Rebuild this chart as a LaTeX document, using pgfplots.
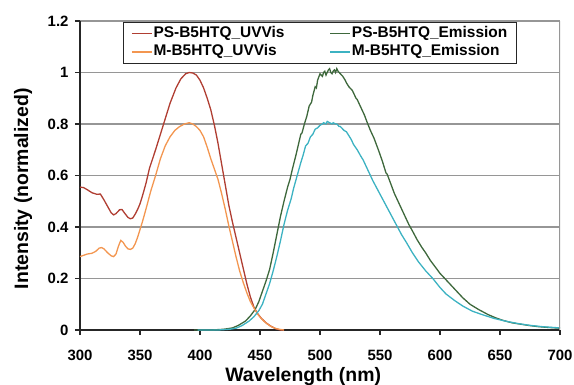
\documentclass[border=0pt]{standalone}
\usepackage{pgfplots}
\pgfplotsset{compat=1.18}
\usepackage{fontspec}
\setmainfont{Liberation Sans}
\definecolor{psuv}{RGB}{176,62,50}
\definecolor{muv}{RGB}{243,150,80}
\definecolor{psem}{RGB}{62,104,60}
\definecolor{mem}{RGB}{60,178,194}
\definecolor{gridgray}{RGB}{150,150,150}
\begin{document}
\begin{tikzpicture}
\begin{axis}[
  name=ax,
  scale only axis, width=480bp, height=309bp,
  xmin=300, xmax=700, ymin=0, ymax=1.2,
  xtick={300,350,400,450,500,550,600,650,700},
  ytick={0,0.2,0.4,0.6,0.8,1,1.2},
  yticklabels={0,0.2,0.4,0.6,0.8,1,1.2},
  axis x line*=bottom, axis y line*=left,
  axis line style={line width=1.6bp, black!85, -},
  tick style={line width=1.2bp, black!85},
  tick align=outside, major tick length=5bp,
  ymajorgrids, grid style={line width=1.3bp, gridgray},
  /pgf/number format/assume math mode=true,
  ticklabel style={font=\fontsize{15}{15}\selectfont\bfseries},
  xticklabel style={anchor=base, yshift=-25bp},
  yticklabel style={anchor=east, xshift=-3bp},
  xlabel={Wavelength (nm)}, ylabel={Intensity (normalized)},
  every axis x label/.style={at={(axis description cs:0.465,0)}, anchor=base, yshift=-51bp, font=\fontsize{19.5}{19.5}\selectfont\bfseries},
  every axis y label/.style={at={(axis description cs:0,0.457)}, xshift=-57bp, rotate=90, anchor=center, font=\fontsize{19.5}{19.5}\selectfont\bfseries},
  legend columns=2,
  legend style={at={(axis description cs:0.0895,0.996)}, anchor=north west, draw=black!85, fill=white,
    font=\fontsize{15.5}{15.5}\selectfont\bfseries, inner xsep=8bp, inner ysep=2bp, row sep=0bp,
    nodes={inner sep=1bp, text height=12bp, text depth=4.5bp},
    /tikz/every even column/.append style={column sep=44bp}},
  legend cell align=left,
  legend image code/.code={\draw[#1, line width=1.4bp] (0bp,0bp) -- (20bp,0bp);},
  every axis plot/.append style={line width=1.3bp},
]
\addplot[psuv] coordinates {
(300,0.555)(303,0.553)(306,0.545)(310,0.533)(314,0.527)(317,0.528)(320,0.505)(323,0.48)(326,0.455)(328,0.447)(330,0.452)(333,0.467)(335,0.468)(337,0.455)(340,0.437)(342,0.432)(344,0.435)(346,0.45)(348,0.468)(350,0.49)(352,0.52)(355,0.57)(358,0.63)(363,0.70)(367,0.76)(371,0.82)(375,0.88)(380,0.94)(384,0.975)(388,0.995)(391,1.0)(394,0.998)(397,0.99)(400,0.97)(403,0.94)(406,0.90)(409,0.855)(412,0.795)(415,0.725)(418,0.645)(421,0.565)(424,0.485)(427,0.42)(430,0.36)(433,0.30)(436,0.24)(439,0.18)(442,0.128)(445,0.088)(448,0.064)(451,0.046)(455,0.028)(459,0.015)(463,0.005)(467,0.0)(470,0)};
\addlegendentry{PS-B5HTQ\_UVVis}
\addplot[psem] coordinates {
(395,0)(410,0)(420,0.003)(427,0.008)(432,0.018)(438,0.035)(442,0.055)(446,0.08)(449,0.11)(452,0.15)(455,0.19)(458,0.235)(461,0.30)(464,0.37)(467,0.44)(470,0.50)(473,0.555)(475,0.585)(477,0.625)(480,0.68)(482,0.72)(484,0.76)(485,0.765)(487,0.80)(489,0.83)(491,0.87)(493,0.885)(494,0.91)(496,0.945)(497,0.94)(498,0.97)(500,0.995)(501,0.99)(502,0.985)(503,1.0)(504,1.005)(505,0.99)(506,1.0)(507,1.01)(508,1.015)(509,1.0)(510,0.995)(511,1.005)(512,1.01)(513,1.0)(514,1.015)(515,1.005)(516,1.0)(518,0.99)(519,0.985)(521,0.97)(522,0.96)(524,0.945)(525,0.94)(527,0.93)(530,0.90)(531,0.895)(533,0.875)(536,0.845)(537,0.835)(539,0.81)(542,0.775)(545,0.745)(547,0.72)(549,0.695)(552,0.655)(555,0.61)(556,0.605)(558,0.58)(562,0.53)(566,0.49)(570,0.45)(574,0.41)(577,0.385)(581,0.35)(585,0.32)(588,0.30)(592,0.27)(596,0.245)(600,0.22)(605,0.195)(610,0.17)(615,0.145)(619,0.125)(625,0.10)(632,0.08)(640,0.06)(646,0.048)(652,0.038)(660,0.028)(668,0.022)(675,0.017)(682,0.013)(690,0.01)(700,0.007)};
\addlegendentry{PS-B5HTQ\_Emission}
\addplot[muv] coordinates {
(300,0.285)(303,0.29)(306,0.295)(310,0.298)(313,0.305)(316,0.318)(318,0.32)(320,0.315)(323,0.30)(326,0.288)(328,0.285)(330,0.295)(332,0.325)(334,0.348)(336,0.34)(338,0.325)(340,0.315)(342,0.313)(344,0.318)(346,0.335)(348,0.36)(350,0.39)(352,0.42)(355,0.47)(359,0.54)(363,0.60)(367,0.665)(371,0.715)(375,0.75)(379,0.775)(383,0.79)(387,0.80)(391,0.805)(394,0.80)(397,0.79)(400,0.775)(403,0.75)(406,0.71)(409,0.665)(412,0.625)(415,0.585)(418,0.53)(421,0.47)(424,0.405)(427,0.345)(430,0.285)(433,0.23)(436,0.185)(439,0.145)(442,0.11)(445,0.085)(448,0.062)(451,0.045)(455,0.027)(459,0.014)(463,0.006)(467,0.002)(470,0)};
\addlegendentry{M-B5HTQ\_UVVis}
\addplot[mem] coordinates {
(398,0)(415,0)(425,0.003)(430,0.007)(435,0.017)(441,0.035)(445,0.052)(449,0.075)(452,0.10)(455,0.14)(458,0.18)(461,0.23)(464,0.285)(467,0.345)(470,0.41)(473,0.465)(476,0.51)(478,0.55)(481,0.60)(484,0.65)(486,0.68)(488,0.715)(490,0.725)(492,0.75)(494,0.76)(496,0.78)(498,0.785)(500,0.795)(502,0.80)(503,0.805)(505,0.80)(506,0.81)(508,0.805)(510,0.80)(511,0.805)(513,0.80)(514,0.80)(516,0.79)(517,0.79)(519,0.78)(520,0.775)(522,0.77)(524,0.755)(526,0.74)(528,0.72)(531,0.70)(534,0.675)(536,0.66)(538,0.64)(541,0.61)(544,0.58)(548,0.545)(552,0.51)(556,0.475)(560,0.44)(564,0.405)(568,0.37)(572,0.34)(577,0.30)(582,0.265)(588,0.23)(594,0.20)(600,0.165)(605,0.14)(612,0.115)(619,0.093)(627,0.073)(635,0.06)(645,0.045)(655,0.034)(665,0.025)(675,0.018)(685,0.013)(700,0.008)};
\addlegendentry{M-B5HTQ\_Emission}
\draw[gridgray, line width=1.3bp] (rel axis cs:1,0) -- (rel axis cs:1,1);
\end{axis}
\pgfresetboundingbox
\path[use as bounding box] ([shift={(-80bp,-55bp)}]ax.south west) rectangle ([shift={(14bp,21bp)}]ax.north east);
\end{tikzpicture}
\end{document}
